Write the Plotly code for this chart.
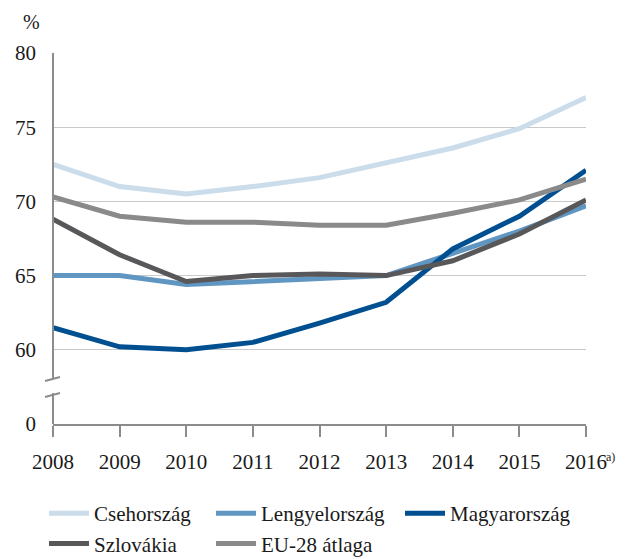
import plotly.graph_objects as go

years = [2008, 2009, 2010, 2011, 2012, 2013, 2014, 2015, 2016]
year_labels = ["2008", "2009", "2010", "2011", "2012", "2013", "2014", "2015", "2016"]
last_year_note = "a)"

# employment rate, %
cseh = [72.5, 71.0, 70.5, 71.0, 71.6, 72.6, 73.6, 74.9, 77.0]
lengyel = [65.0, 65.0, 64.4, 64.6, 64.8, 65.0, 66.5, 68.0, 69.7]
magyar = [61.5, 60.2, 60.0, 60.5, 61.8, 63.2, 66.8, 69.0, 72.1]
szlovakia = [68.8, 66.4, 64.6, 65.0, 65.1, 65.0, 66.0, 67.8, 70.1]
eu28 = [70.3, 69.0, 68.6, 68.6, 68.4, 68.4, 69.2, 70.1, 71.5]

# y axis is broken: the "0" tick sits where 55 would be
y_ticks = [55, 60, 65, 70, 75, 80]
y_tick_labels = ["0", "60", "65", "70", "75", "80"]

FONT = "Liberation Serif"
AXIS = "#8c8c8c"
TEXT = "#1a1a1a"

series = [
    ("Csehország", cseh, "#cbdcea", "legend"),
    ("Lengyelország", lengyel, "#6096c2", "legend2"),
    ("Magyarország", magyar, "#004f90", "legend3"),
    ("Szlovákia", szlovakia, "#58585a", "legend"),
    ("EU-28 átlaga", eu28, "#8a8a8a", "legend2"),
]

fig = go.Figure()
for name, vals, color, leg in series:
    fig.add_trace(go.Scatter(
        x=years, y=vals, mode="lines", name=name,
        line=dict(color=color, width=5),
        legend=leg, legendgroup=name,
    ))

# pixel helpers for the plot area (53..586 x, 53..424 y)
def px_x(p):
    return (p - 53) / 533

def px_y(p):
    return (424 - p) / 371

shapes = [
    # y axis drawn by hand so it can have the break
    dict(type="line", xref="paper", yref="paper", x0=0, x1=0,
         y0=1, y1=px_y(379), line=dict(color=AXIS, width=2)),
    dict(type="line", xref="paper", yref="paper", x0=0, x1=0,
         y0=px_y(393), y1=0, line=dict(color=AXIS, width=2)),
    dict(type="line", xref="paper", yref="paper", x0=px_x(45), x1=px_x(60),
         y0=px_y(381), y1=px_y(377), line=dict(color=AXIS, width=2)),
    dict(type="line", xref="paper", yref="paper", x0=px_x(45), x1=px_x(60),
         y0=px_y(397), y1=px_y(393), line=dict(color=AXIS, width=2)),
]

legend_common = dict(
    orientation="v", yanchor="top", y=px_y(493), xanchor="left",
    font=dict(family=FONT, size=21, color=TEXT),
    bgcolor="rgba(0,0,0,0)", itemwidth=40, tracegroupgap=12,
    traceorder="normal",
)

fig.update_layout(
    width=629, height=559,
    margin=dict(l=53, r=43, t=53, b=135, autoexpand=False),
    plot_bgcolor="white", paper_bgcolor="white",
    font=dict(family=FONT, size=20, color=TEXT),
    showlegend=True,
    legend=dict(legend_common, x=px_x(44)),
    legend2=dict(legend_common, x=px_x(211)),
    legend3=dict(legend_common, x=px_x(400)),
    shapes=shapes,
    annotations=[
        dict(text="%", xref="paper", yref="paper", x=px_x(21), y=px_y(22),
             xanchor="left", yanchor="middle", showarrow=False,
             font=dict(family=FONT, size=20, color=TEXT)),
        dict(text=last_year_note, xref="paper", yref="paper", x=px_x(604), y=px_y(457),
             xanchor="left", yanchor="middle", showarrow=False,
             font=dict(family=FONT, size=12, color=TEXT)),
    ],
    xaxis=dict(
        range=[2008, 2016], tickvals=years, ticktext=year_labels,
        showgrid=False, zeroline=False, automargin=False,
        showline=True, linecolor=AXIS, linewidth=2,
        ticks="outside", ticklen=11, tickwidth=2, tickcolor=AXIS,
        ticklabelstandoff=7,
        tickfont=dict(family=FONT, size=21, color=TEXT),
    ),
    yaxis=dict(
        range=[55, 80], tickvals=y_ticks, ticktext=y_tick_labels,
        showgrid=True, gridcolor="#c9c9c9", gridwidth=1,
        zeroline=False, showline=False, ticks="", automargin=False,
        ticklabelstandoff=16,
        tickfont=dict(family=FONT, size=21, color=TEXT),
    ),
)

# drop the browser's default body margin so the figure fills the window
fig.write_html(
    "out.html",
    config={"displayModeBar": False},
    post_script="document.body.style.margin = '0';",
)
